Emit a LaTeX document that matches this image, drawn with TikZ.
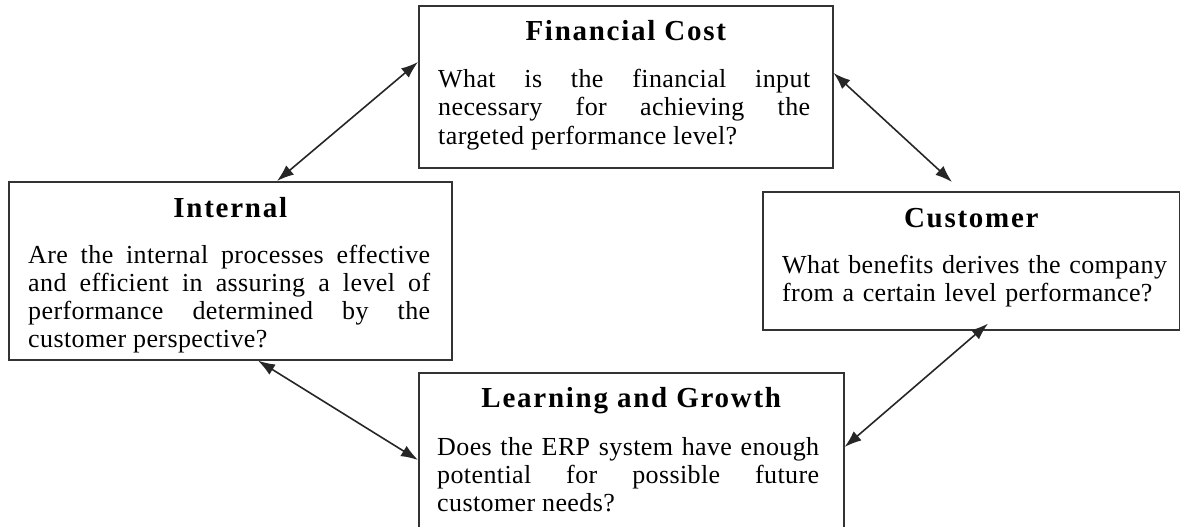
\documentclass[tikz,border=0pt]{standalone}
\usepackage{fontspec}
\setmainfont{Liberation Serif}
\usepackage{xcolor}
\usepackage{tikz}
\usetikzlibrary{arrows.meta}

\begin{document}
\begin{tikzpicture}[x=1pt, y=-1pt,
                    box/.style={draw=black!80, line width=1.6pt, rectangle,
                    anchor=north west, inner sep=0pt},
                    ttl/.style={font=\fontsize{29}{30}\selectfont\bfseries\addfontfeatures{LetterSpace=6},
                    anchor=base, inner sep=0pt},
                    txt/.style={font=\fontsize{26}{28}\selectfont\addfontfeatures{LetterSpace=1.5},
                    anchor=base west, inner sep=0pt, align=justify},
                    link/.style={line width=1.6pt, draw=black!85,
                    {Latex[length=17pt,width=12pt]}-{Latex[length=17pt,width=12pt]}}]
                    \clip (0,0) rectangle (1180,527);
                    \node[box, minimum width=414pt, minimum height=162pt] (fin) at (418,5) {};
                    \node[box, minimum width=443pt, minimum height=178pt] (int) at (8,181) {};
                    \node[box, minimum width=417pt, minimum height=138pt] (cust) at (762,191) {};
                    \node[box, minimum width=425pt, minimum height=175pt] (learn) at (418,372) {};
                    \node[ttl] (finttl) at ([yshift=-36pt]fin.north) {Financial Cost};
                    \node[ttl] (intttl) at ([yshift=-36pt]int.north) {Internal};
                    \node[ttl] (custttl) at ([yshift=-36pt]cust.north) {Customer};
                    \node[ttl] (learnttl) at ([yshift=-35pt]learn.north) {Learning and Growth};
                    \node[txt, text width=372pt] (fintxt) at ([xshift=20pt, yshift=-83pt]fin.north west)
                    {What is the financial input\linebreak necessary for achieving the\linebreak
                    targeted performance level?};
                    \node[txt, text width=402pt] (inttxt) at ([xshift=20pt, yshift=-82pt]int.north west)
                    {Are the internal processes effective\linebreak and efficient in assuring a level of\linebreak
                    performance determined by the\linebreak customer perspective?};
                    \node[txt, text width=386pt, align=left] (custtxt) at ([xshift=20pt, yshift=-82pt]cust.north west)
                    {What benefits derives the company\\ from a certain level performance?};
                    \node[txt, text width=382pt] (learntxt) at ([xshift=19pt, yshift=-83pt]learn.north west)
                    {Does the ERP system have enough\linebreak potential for possible future\linebreak
                    customer needs?};
                    \draw[link] ([yshift=-57pt]fin.north west) -- ([xshift=269pt]int.north west);
                    \draw[link] ([yshift=-68pt]fin.north east) -- ([xshift=190pt, yshift=9pt]cust.north west);
                    \draw[link] ([xshift=250pt]int.south west) -- ([yshift=-88pt]learn.north west);
                    \draw[link] ([yshift=-75pt]learn.north east) -- ([xshift=226pt, yshift=7pt]cust.south west);
                \end{tikzpicture}
\end{document}
